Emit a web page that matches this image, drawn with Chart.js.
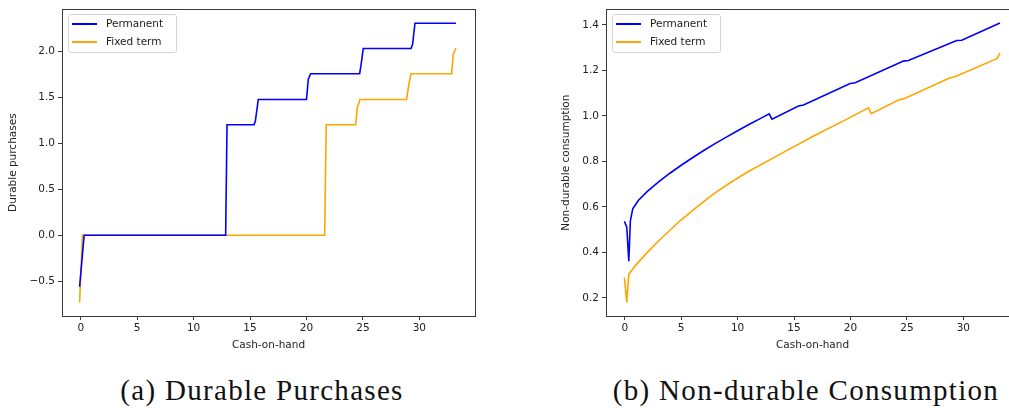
<!DOCTYPE html>
<html>
<head>
<meta charset="utf-8">
<script src="https://cdn.jsdelivr.net/npm/chart.js@4.4.1/dist/chart.umd.min.js"></script>
<style>
  html, body { margin: 0; padding: 0; background: #fff; }
  body { width: 1009px; height: 408px; overflow: hidden; position: relative; }
  .wrap { position: absolute; top: 0; }
  .legend { position: absolute; top: 14px; width: 107px; height: 37px; border: 1px solid #d4d4d4; border-radius: 3px;
            background: rgba(255,255,255,0.85); font: 10.5px "DejaVu Sans"; color: #222; }
  .legend .item { position: absolute; left: 3px; height: 12px; }
  .legend .swatch { position: absolute; left: 0; top: 5px; width: 25px; height: 2px; }
  .legend .lbl { position: absolute; left: 34px; top: -1px; white-space: nowrap; }
  .caption { position: absolute; top: 374px; line-height: 32px; font: 29px "Liberation Serif", serif; color: #111;
             transform: translateX(-50%); white-space: nowrap; letter-spacing: 1.3px; }
</style>
</head>
<body>
<div class="wrap" style="left:0"><canvas id="durable" width="500" height="360"></canvas></div>
<div class="wrap" style="left:505px"><canvas id="nondurable" width="530" height="360"></canvas></div>
<div class="legend" id="legA" style="left:68px"></div>
<div class="legend" id="legB" style="left:612px"></div>
<div class="caption" style="left:262px">(a) Durable Purchases</div>
<div class="caption" style="left:806px">(b) Non-durable Consumption</div>
<script>
// durable purchases (left)
const durPermX = [-0.1, 0.3, 12.84, 12.96, 15.35, 15.47, 15.73, 20.0, 20.16, 20.37, 24.71, 24.85, 25.03, 29.26, 29.4, 29.61, 33.24];
const durPermY = [-0.56, 0.0, 0.0, 1.205, 1.205, 1.245, 1.48, 1.48, 1.70, 1.76, 1.76, 1.87, 2.035, 2.035, 2.08, 2.31, 2.31];
const durFixX = [-0.1, 0.15, 21.61, 21.75, 24.36, 24.5, 24.74, 28.87, 29.05, 29.26, 32.86, 33.0, 33.24];
const durFixY = [-0.73, 0.0, 0.0, 1.205, 1.205, 1.39, 1.48, 1.48, 1.63, 1.76, 1.76, 1.97, 2.04];

// non-durable consumption (right)
const ndPermX = [-0.03, 0.18, 0.36, 0.5, 0.71, 1.2, 2.0, 3.0, 4.0, 5.0, 6.0, 7.0, 8.0, 9.0, 10.0, 11.0, 12.0, 12.8, 13.04, 15.4, 15.84, 19.97, 20.42, 24.69, 25.13, 29.41, 29.86, 33.24];
const ndPermY = [0.536, 0.511, 0.361, 0.54, 0.591, 0.628, 0.668, 0.710, 0.748, 0.783, 0.816, 0.848, 0.878, 0.907, 0.935, 0.962, 0.988, 1.009, 0.986, 1.044, 1.048, 1.143, 1.146, 1.241, 1.244, 1.332, 1.333, 1.409];
const ndFixX = [-0.03, 0.18, 0.36, 1.0, 2.0, 3.0, 4.0, 4.93, 6.4, 7.88, 9.35, 10.83, 13.78, 16.73, 19.68, 21.6, 21.83, 24.25, 24.69, 28.82, 29.27, 33.0, 33.24];
const ndFixY = [0.289, 0.18, 0.304, 0.345, 0.40, 0.45, 0.497, 0.54, 0.60, 0.657, 0.706, 0.752, 0.832, 0.912, 0.986, 1.036, 1.01, 1.07, 1.075, 1.168, 1.172, 1.253, 1.277];

const seriesNames = ['Permanent', 'Fixed term'];
const seriesColors = ['#0000ff', '#ffa500'];
const xTitle = 'Cash-on-hand';

const tickFont = { family: 'DejaVu Sans', size: 10.5 };
const ink = '#222';
const spine = '#3a3a3a';

const pts = (xs, ys) => xs.map((x, i) => ({ x, y: ys[i] }));
const fmt = (v) => v.toFixed(1).replace('-', '\u2212');

// matplotlib-style box around the axes
const frame = {
  id: 'frame',
  afterDraw(chart) {
    const { ctx, chartArea: a } = chart;
    ctx.save();
    ctx.strokeStyle = spine;
    ctx.lineWidth = 1;
    ctx.strokeRect(Math.round(a.left) + 0.5, Math.round(a.top) + 0.5, Math.round(a.right - a.left), Math.round(a.bottom - a.top));
    ctx.restore();
  },
};

function makeChart(id, perm, fix, y, yLabel, yWidth, titlePad, padRight) {
  return new Chart(document.getElementById(id), {
    type: 'line',
    data: {
      datasets: [perm, fix].map((d, i) => ({
        label: seriesNames[i], data: d, borderColor: seriesColors[i], borderWidth: 1.6,
        pointRadius: 0, tension: 0, fill: false,
      })),
    },
    options: {
      responsive: false, animation: false, devicePixelRatio: 1,
      layout: { padding: { left: 0, top: 8, right: padRight, bottom: 0 } },
      plugins: { legend: { display: false }, tooltip: { enabled: false } },
      scales: {
        x: {
          type: 'linear', min: -1.66, max: 34.93,
          ticks: { stepSize: 5, includeBounds: false, color: ink, font: tickFont, padding: 2, maxRotation: 0 },
          grid: { drawOnChartArea: false, drawTicks: true, tickLength: 4, color: spine },
          border: { display: false },
          title: { display: true, text: xTitle, color: ink, font: tickFont, padding: { top: 0, bottom: 8 } },
          afterFit: (s) => { s.height = 44; },
        },
        y: {
          type: 'linear', min: y.min, max: y.max,
          ticks: { stepSize: y.step, includeBounds: false, color: ink, font: tickFont, padding: 3, callback: fmt },
          grid: { drawOnChartArea: false, drawTicks: true, tickLength: 4, color: spine },
          border: { display: false },
          title: { display: true, text: yLabel, color: ink, font: tickFont, padding: { top: titlePad, bottom: 0 } },
          afterFit: (s) => { s.width = yWidth; },
        },
      },
    },
    plugins: [frame],
  });
}

makeChart('durable', pts(durPermX, durPermY), pts(durFixX, durFixY),
  { min: -0.879, max: 2.462, step: 0.5 }, 'Durable purchases', 62, 7, 25);
makeChart('nondurable', pts(ndPermX, ndPermY), pts(ndFixX, ndFixY),
  { min: 0.12, max: 1.469, step: 0.2 }, 'Non-durable consumption', 101, 55, 16);

// legends inside the axes
['legA', 'legB'].forEach((id) => {
  const box = document.getElementById(id);
  seriesNames.forEach((name, i) => {
    const item = document.createElement('div');
    item.className = 'item';
    item.style.top = (3 + i * 18) + 'px';
    item.innerHTML = `<div class="swatch" style="background:${seriesColors[i]}"></div><div class="lbl">${name}</div>`;
    box.appendChild(item);
  });
});
</script>
</body>
</html>
